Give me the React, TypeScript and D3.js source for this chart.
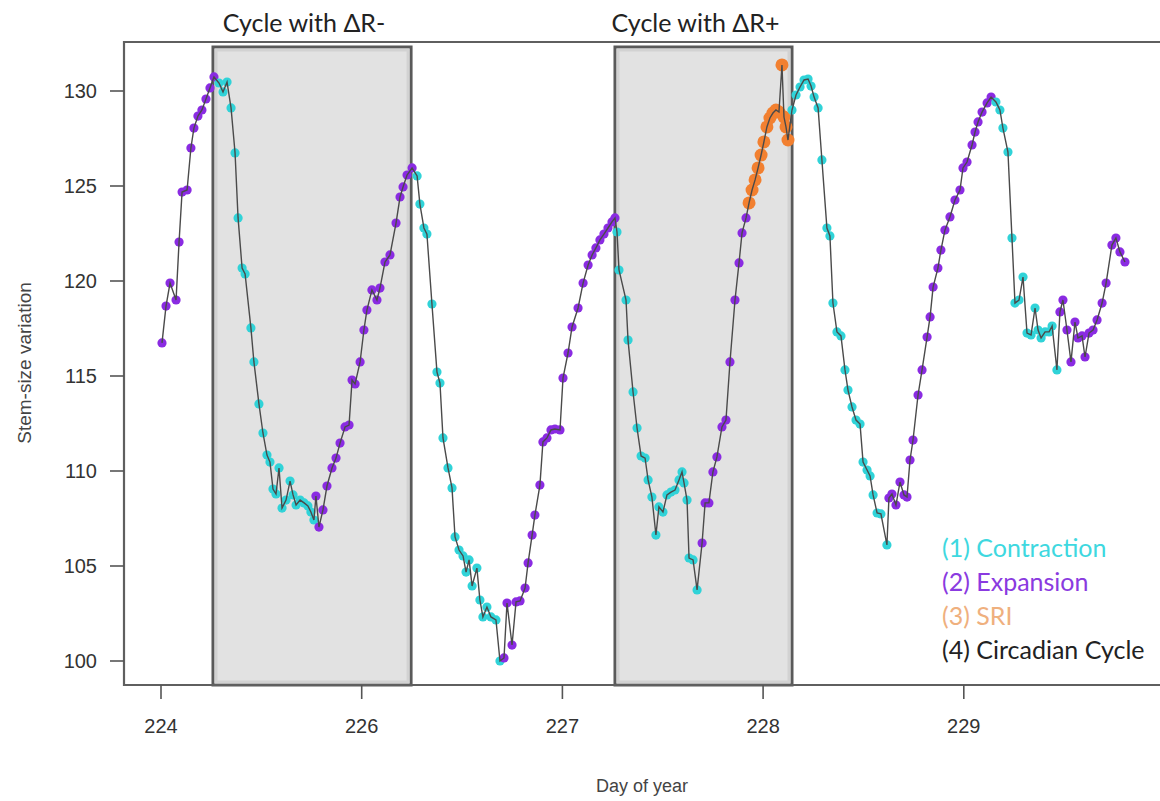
import React from "react";
import * as d3 from "d3";

// ---- data ----
const days = [
  224.005, 224.025, 224.045, 224.075, 224.09, 224.105, 224.13, 224.149, 224.164, 224.184, 224.204, 224.224, 224.244, 224.264,
  224.289, 224.309, 224.329, 224.349, 224.369, 224.384, 224.404, 224.419, 224.448, 224.463, 224.488, 224.508, 224.528, 224.543, 224.558, 224.573, 224.588, 224.603, 224.623, 224.643, 224.658, 224.673, 224.693, 224.713, 224.732, 224.747, 224.762,
  224.772, 224.787, 224.807, 224.827, 224.852, 224.872, 224.892, 224.917, 224.937, 224.952, 224.967, 224.992, 225.011, 225.026, 225.051, 225.076, 225.091, 225.116, 225.141, 225.171, 225.191, 225.206, 225.226, 225.251,
  225.276, 225.29, 225.31, 225.325, 225.35, 225.375, 225.39, 225.405, 225.43, 225.45, 225.465, 225.485, 225.505, 225.52, 225.535, 225.55, 225.574, 225.589, 225.604, 225.624, 225.644, 225.669, 225.689,
  225.709, 225.724, 225.749, 225.769, 225.789, 225.814, 225.829, 225.849, 225.863, 225.888, 225.903, 225.923, 225.943, 225.963, 225.988, 226.003, 226.028, 226.048, 226.078, 226.103, 226.128, 226.148, 226.167, 226.187, 226.207, 226.227, 226.247, 226.262,
  226.272, 226.282, 226.317, 226.327, 226.352, 226.372, 226.392, 226.412, 226.427, 226.446, 226.466, 226.481, 226.501, 226.521, 226.541, 226.561, 226.581, 226.596, 226.606, 226.621, 226.631, 226.651, 226.671,
  226.696, 226.711, 226.73, 226.75, 226.77, 226.795, 226.815, 226.835, 226.86, 226.88, 226.895, 226.915,
  226.93, 226.945, 226.96, 226.975, 226.99, 227.004, 227.019, 227.034, 227.049, 227.064, 227.079, 227.094, 227.104, 227.114, 227.124,
  227.144, 227.164, 227.184, 227.204, 227.224, 227.239, 227.254, 227.274, 227.293, 227.318, 227.333, 227.348, 227.368, 227.388, 227.408, 227.423, 227.443, 227.463, 227.483, 227.498, 227.518, 227.533, 227.548, 227.568, 227.587, 227.617,
  227.627, 227.642, 227.662, 227.682, 227.702, 227.717, 227.732, 227.747, 227.772, 227.792, 227.817, 227.832, 227.847, 227.871, 227.886, 227.906, 227.931, 227.956, 227.981, 227.996, 228.016, 228.041, 228.056, 228.071, 228.091, 228.116, 228.136,
  228.16, 228.18, 228.195, 228.22, 228.24, 228.255, 228.275, 228.295, 228.315, 228.335, 228.355, 228.37, 228.385, 228.405, 228.425, 228.44, 228.464,
  228.479, 228.494, 228.514, 228.534, 228.554, 228.569, 228.589, 228.604, 228.624, 228.644, 228.664, 228.689, 228.709, 228.738, 228.758, 228.778, 228.803,
];

const stemSize = [
  116.74, 118.68, 119.89, 119.0, 122.05, 124.68, 124.79, 127.0, 128.05, 128.68, 129.0, 129.58, 130.16, 130.74,
  130.42, 129.95, 130.47, 129.11, 126.74, 123.32, 120.68, 120.37, 117.53, 115.74, 113.53, 112.0, 110.84, 110.47, 109.05, 108.79, 110.16, 108.05, 108.47, 109.47, 108.74, 108.21, 108.47, 108.32, 108.16, 107.84, 107.42,
  108.68, 107.05, 107.95, 109.21, 110.16, 110.68, 111.47, 112.32, 112.42, 114.79, 114.58, 115.74, 117.42, 118.47, 119.53, 119.0, 119.63, 121.0, 121.37, 123.05, 124.42, 124.95, 125.58, 125.95,
  125.53, 124.05, 122.79, 122.47, 118.79, 115.21, 114.63, 111.74, 110.16, 109.11, 106.53, 105.84, 105.53, 104.68, 105.32, 103.95, 104.89, 103.21, 102.32, 102.84, 102.32, 102.16, 100.0,
  100.16, 103.05, 100.84, 103.11, 103.16, 103.84, 105.16, 106.63, 107.68, 109.26, 111.53, 111.74, 112.16, 112.21, 112.16, 114.89, 116.21, 117.58, 118.58, 119.89, 120.84, 121.37, 121.74, 122.16, 122.47, 122.79, 123.11, 123.32,
  122.58, 120.58, 119.0, 116.89, 114.16, 112.26, 110.79, 110.68, 109.53, 108.63, 106.63, 108.11, 107.84, 108.74, 108.89, 109.0, 109.53, 109.95, 109.37, 108.47, 105.42, 105.32, 103.74,
  106.21, 108.32, 108.32, 109.95, 110.74, 112.32, 112.68, 115.74, 119.0, 120.95, 122.53, 123.32,
  124.11, 124.79, 125.32, 125.95, 126.63, 127.32, 128.11, 128.58, 128.84, 129.0, 128.89, 131.37, 128.63, 128.11, 127.42,
  129.0, 129.79, 130.21, 130.58, 130.63, 130.26, 129.68, 129.11, 126.37, 122.79, 122.37, 118.84, 117.32, 117.11, 115.32, 114.26, 113.37, 112.68, 112.47, 110.47, 110.05, 109.74, 108.74, 107.79, 107.74, 106.11,
  108.58, 108.79, 108.21, 109.42, 108.74, 108.63, 110.58, 111.63, 114.0, 115.32, 117.05, 118.11, 119.68, 120.68, 121.63, 122.68, 123.37, 124.26, 124.79, 125.95, 126.26, 127.16, 127.84, 128.37, 128.89, 129.37, 129.68,
  129.42, 129.0, 128.05, 126.79, 122.26, 118.84, 119.0, 120.21, 117.26, 117.16, 118.58, 117.42, 117.0, 117.32, 117.32, 117.63, 115.32,
  118.37, 119.0, 117.42, 115.74, 117.84, 117.0, 117.11, 116.0, 117.26, 117.42, 117.95, 118.84, 119.89, 121.89, 122.26, 121.53, 121.0,
];

// phase of consecutive points: C = contraction, E = expansion, S = SRI
const phaseRuns: [string, number][] = [
  ["E", 14], ["C", 27], ["E", 24], ["C", 23], ["E", 28], ["C", 23],
  ["E", 12], ["S", 15], ["C", 26], ["E", 27], ["C", 17], ["E", 17],
];

const yTicks = [100, 105, 110, 115, 120, 125, 130];
const xTickDays = [224, 225, 226, 227, 228];
const xTickLabels = ["224", "226", "227", "228", "229"];

const cycles = [
  { label: "Cycle with \u0394R-", start: 224.259, end: 225.246 },
  { label: "Cycle with \u0394R+", start: 226.262, end: 227.144 },
];

const legendItems = [
  { label: "(1) Contraction", color: "#3ed8e0" },
  { label: "(2) Expansion", color: "#8a3ae0" },
  { label: "(3) SRI", color: "#efb07e" },
  { label: "(4) Circadian Cycle", color: "#222222" },
];

const phaseColor: Record<string, string> = { C: "#30d3d8", E: "#8a2be2", S: "#f28030" };

// ---- layout ----
const W = 1160;
const H = 801;
const frame = { left: 124, top: 42, right: 1166, bottom: 685 };
const boxTop = 47;

export default function App() {
  const x = d3.scaleLinear().domain([224, 229]).range([161, 1164.5]);
  const y = d3.scaleLinear().domain([100, 130]).range([661, 91]);

  const phases: string[] = [];
  phaseRuns.forEach(([p, n]) => {
    for (let i = 0; i < n; i++) phases.push(p);
  });
  const pts = days.map((d, i) => ({ d, v: stemSize[i], p: phases[i] }));

  const line = d3
    .line<{ d: number; v: number }>()
    .x((p) => x(p.d))
    .y((p) => y(p.v));

  const axisFont = "Liberation Sans, Arial, Helvetica, sans-serif";
  const calFont = "Lato, Open Sans, sans-serif";

  return (
    <svg
      width={W}
      height={H}
      style={{ position: "absolute", left: 0, top: 0, background: "#fff" }}
    >
      <rect x={0} y={0} width={W} height={H} fill="#ffffff" />

      {/* cycle boxes */}
      {cycles.map((c, i) => (
        <g key={i}>
          <rect
            x={x(c.start)}
            y={boxTop}
            width={x(c.end) - x(c.start)}
            height={frame.bottom - boxTop}
            fill="#e2e2e2"
            stroke="#5a5a5a"
            strokeWidth={3}
          />
          <rect
            x={x(c.start) + 3}
            y={boxTop + 3}
            width={x(c.end) - x(c.start) - 6}
            height={frame.bottom - boxTop - 6}
            fill="none"
            stroke="#d2d2d2"
            strokeWidth={3}
          />
          <text
            x={(x(c.start) + x(c.end)) / 2 - 8}
            y={32}
            textAnchor="middle"
            fontFamily={calFont}
            fontSize={25}
            fill="#222"
          >
            {c.label}
          </text>
        </g>
      ))}

      {/* frame */}
      <path
        d={`M${frame.right},${frame.top}H${frame.left}V${frame.bottom}H${frame.right}`}
        fill="none"
        stroke="#5f5f5f"
        strokeWidth={2.2}
      />

      {/* y axis */}
      {yTicks.map((t) => (
        <g key={t}>
          <line x1={110} x2={frame.left} y1={y(t)} y2={y(t)} stroke="#555" strokeWidth={1.6} />
          <text
            x={97}
            y={y(t) + 7}
            textAnchor="end"
            fontFamily={axisFont}
            fontSize={20}
            fill="#333"
          >
            {t}
          </text>
        </g>
      ))}

      {/* x axis */}
      {xTickDays.map((t, i) => (
        <g key={t}>
          <line x1={x(t)} x2={x(t)} y1={frame.bottom} y2={frame.bottom + 14} stroke="#555" strokeWidth={1.6} />
          <text
            x={x(t)}
            y={733}
            textAnchor="middle"
            fontFamily={axisFont}
            fontSize={20}
            fill="#333"
          >
            {xTickLabels[i]}
          </text>
        </g>
      ))}

      <text
        x={642}
        y={792}
        textAnchor="middle"
        fontFamily={axisFont}
        fontSize={18}
        fill="#444"
      >
        Day of year
      </text>
      <text
        transform="translate(31,363) rotate(-90)"
        textAnchor="middle"
        fontFamily={axisFont}
        fontSize={19}
        fill="#444"
      >
        Stem-size variation
      </text>

      {/* points */}
      {pts.map((p, i) => (
        <circle
          key={i}
          cx={x(p.d)}
          cy={y(p.v)}
          r={p.p === "S" ? 6.5 : 4.6}
          fill={phaseColor[p.p]}
        />
      ))}

      {/* connecting line */}
      <path d={line(pts) || ""} fill="none" stroke="#4a4a4a" strokeWidth={1.4} />

      {/* legend */}
      {legendItems.map((l, i) => (
        <text
          key={i}
          x={942}
          y={557 + i * 34}
          fontFamily={calFont}
          fontSize={25}
          fill={l.color}
        >
          {l.label}
        </text>
      ))}
    </svg>
  );
}
